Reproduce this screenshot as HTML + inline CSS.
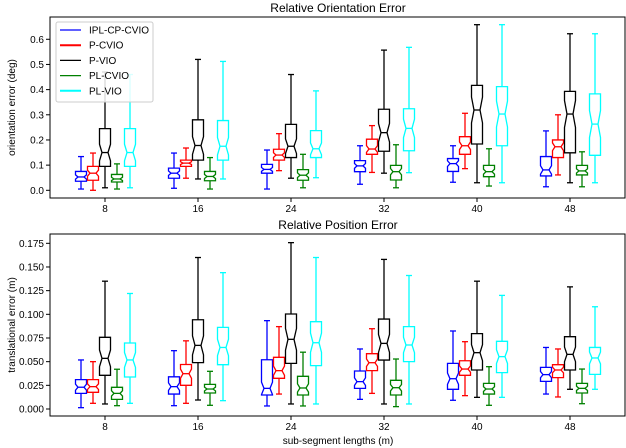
<!DOCTYPE html>
<html><head><meta charset="utf-8"><style>
html,body{margin:0;padding:0;background:#fff;}
svg{display:block;font-family:"Liberation Sans","DejaVu Sans",sans-serif;}
</style></head><body>
<svg id="chart" width="626" height="448" viewBox="0 0 626 448"></svg>
<script>
const categories = [8, 16, 24, 32, 40, 48];
const seriesNames = ["IPL-CP-CVIO", "P-CVIO", "P-VIO", "PL-CVIO", "PL-VIO"];
const seriesColors = ["#0000ff", "#ff0000", "#000000", "#008000", "#00ffff"];
// [low whisker, q1, median, q3, high whisker]
const oriIPL = [[0.005,0.036,0.053,0.075,0.134],[0.008,0.048,0.068,0.088,0.148],[0.005,0.068,0.083,0.103,0.16],[0.024,0.074,0.097,0.118,0.177],[0.032,0.075,0.106,0.126,0.177],[0.014,0.057,0.081,0.134,0.236]];
const oriPC = [[0.0,0.04,0.068,0.095,0.148],[0.048,0.095,0.108,0.12,0.168],[0.078,0.12,0.14,0.163,0.225],[0.071,0.143,0.164,0.203,0.257],[0.086,0.143,0.177,0.213,0.306],[0.061,0.13,0.173,0.2,0.3]];
const oriPV = [[0.01,0.095,0.15,0.245,0.47],[0.045,0.12,0.178,0.28,0.52],[0.048,0.13,0.175,0.262,0.46],[0.068,0.155,0.229,0.322,0.557],[0.03,0.184,0.319,0.417,0.658],[0.03,0.149,0.303,0.393,0.622]];
const oriPLC = [[0.005,0.033,0.045,0.063,0.105],[0.005,0.038,0.055,0.075,0.13],[0.01,0.04,0.06,0.082,0.143],[0.01,0.041,0.074,0.099,0.181],[0.017,0.054,0.074,0.099,0.165],[0.014,0.061,0.077,0.099,0.153]];
const oriPLV = [[0.01,0.095,0.15,0.245,0.46],[0.045,0.12,0.175,0.277,0.512],[0.05,0.13,0.165,0.237,0.395],[0.07,0.157,0.246,0.324,0.568],[0.03,0.177,0.303,0.412,0.658],[0.03,0.139,0.263,0.383,0.622]];
const posIPL = [[0.0014,0.0165,0.023,0.031,0.0518],[0.0035,0.0158,0.0236,0.034,0.0616],[0.0032,0.0148,0.0218,0.052,0.0933],[0.0102,0.0218,0.0289,0.0401,0.0634],[0.0092,0.0208,0.032,0.0482,0.0824],[0.0158,0.0292,0.0363,0.044,0.065]];
const posPC = [[0.006,0.0176,0.0236,0.031,0.05],[0.006,0.025,0.0373,0.047,0.072],[0.0158,0.0324,0.0405,0.0546,0.087],[0.0165,0.0405,0.0489,0.0584,0.0848],[0.0141,0.0356,0.0422,0.051,0.0711],[0.0127,0.0331,0.0412,0.0468,0.0634]];
const posPV = [[0.0053,0.0356,0.0535,0.0757,0.135],[0.0095,0.049,0.0672,0.0943,0.16],[0.0053,0.0482,0.0736,0.1003,0.1757],[0.0053,0.0517,0.0693,0.095,0.158],[0.0123,0.0412,0.0595,0.0796,0.135],[0.0208,0.0412,0.0577,0.0764,0.129]];
const posPLC = [[0.0035,0.0102,0.0165,0.0229,0.042],[0.0039,0.0169,0.0211,0.026,0.0398],[0.0032,0.0148,0.0222,0.0345,0.06],[0.0025,0.0148,0.0225,0.0303,0.0528],[0.0039,0.0158,0.0211,0.0271,0.0447],[0.0056,0.0169,0.0218,0.0271,0.0422]];
const posPLV = [[0.006,0.0338,0.0518,0.0697,0.122],[0.0088,0.0468,0.065,0.0862,0.144],[0.0053,0.0458,0.07,0.0922,0.16],[0.0053,0.05,0.0676,0.087,0.141],[0.0123,0.0384,0.0553,0.0715,0.12],[0.0208,0.0366,0.0539,0.065,0.108]];
const oriTicks = [0.0, 0.1, 0.2, 0.3, 0.4, 0.5, 0.6];
const oriTickLabels = ["0.0","0.1","0.2","0.3","0.4","0.5","0.6"];
const posTicks = [0, 0.025, 0.05, 0.075, 0.1, 0.125, 0.15, 0.175];
const posTickLabels = ["0.000","0.025","0.050","0.075","0.100","0.125","0.150","0.175"];

const NS = "http://www.w3.org/2000/svg";
const svg = document.getElementById("chart");
function mk(tag, attrs, parent) {
  const e = document.createElementNS(NS, tag);
  for (const k in attrs) e.setAttribute(k, attrs[k]);
  (parent || svg).appendChild(e);
  return e;
}
const xLeft = 50, xRight = 625;
function xScale(i) { return 105 + i * 93; }
const offsets = [-24, -12, 0, 12, 25];

function drawPanel(cfg) {
  const g = mk("g", {});
  
  
  const y = v => cfg.y0 - (v - cfg.v0) * cfg.k;
  const frame = mk("rect", {x: xLeft, y: cfg.top, width: xRight - xLeft, height: cfg.bottom - cfg.top, fill: "none", stroke: "#000", "stroke-width": 1}, g);
  
  
  const title = mk("text", {x: 338, y: cfg.top - 5, "text-anchor": "middle", "font-size": 12, fill: "#000"}, g);
  title.textContent = cfg.title;
  
  
  cfg.ticks.forEach((t, i) => {
    const yy = y(t);
    mk("line", {x1: xLeft - 4, x2: xLeft, y1: yy, y2: yy, stroke: "#000"}, g);
    const tl = mk("text", {x: xLeft - 6, y: yy + 3.5, "text-anchor": "end", "font-size": 10}, g);
    tl.textContent = cfg.tickLabels[i];
    
    
  });
  categories.forEach((c, i) => {
    const xx = xScale(i);
    mk("line", {x1: xx, x2: xx, y1: cfg.bottom, y2: cfg.bottom + 4, stroke: "#000"}, g);
    const tl = mk("text", {x: xx, y: cfg.bottom + 14, "text-anchor": "middle", "font-size": 10}, g);
    tl.textContent = c;
    
    
  });
  const yl = mk("text", {x: 0, y: 0, "text-anchor": "middle", "font-size": 10, transform: `translate(15,${(cfg.top + cfg.bottom) / 2}) rotate(-90)`}, g);
  yl.textContent = cfg.ylabel;
  
  
  cfg.series.forEach((data, s) => {
    data.forEach((d, i) => {
      const cx = xScale(i) + offsets[s];
      const hw = 5.5, nw = 3;
      const [lo, q1, med, q3, hi] = d.map(y);
      const nh = Math.min((q1 - q3) * 0.22, (q1 - med) * 0.95, (med - q3) * 0.95);
      const col = seriesColors[s];
      const bg = mk("g", {stroke: col, "stroke-width": 1.3, fill: "none"}, g);
      
      
      mk("line", {x1: cx, x2: cx, y1: q1, y2: lo}, bg);
      mk("line", {x1: cx, x2: cx, y1: q3, y2: hi}, bg);
      mk("line", {x1: cx - 3, x2: cx + 3, y1: lo, y2: lo}, bg);
      mk("line", {x1: cx - 3, x2: cx + 3, y1: hi, y2: hi}, bg);
      const p = `M${cx-hw},${q1} L${cx-hw},${med+nh} L${cx-nw},${med} L${cx-hw},${med-nh} L${cx-hw},${q3} L${cx+hw},${q3} L${cx+hw},${med-nh} L${cx+nw},${med} L${cx+hw},${med+nh} L${cx+hw},${q1} Z`;
      mk("path", {d: p}, bg);
      mk("line", {x1: cx - nw, x2: cx + nw, y1: med, y2: med}, bg);
    });
  });
}

drawPanel({name: "orientation-error-panel", title: "Relative Orientation Error", top: 17, bottom: 198, y0: 190.3, v0: 0, k: 251.7,
  ticks: oriTicks, tickLabels: oriTickLabels, ylabel: "orientation error (deg)", series: [oriIPL, oriPC, oriPV, oriPLC, oriPLV]});
drawPanel({name: "position-error-panel", title: "Relative Position Error", top: 234, bottom: 416, y0: 409, v0: 0, k: 23.67 / 0.025,
  ticks: posTicks, tickLabels: posTickLabels, ylabel: "translational error (m)", series: [posIPL, posPC, posPV, posPLC, posPLV]});

const xl = mk("text", {x: 338, y: 444, "text-anchor": "middle", "font-size": 10});
xl.textContent = "sub-segment lengths (m)";



const leg = mk("g", {});


mk("rect", {x: 56, y: 22, width: 97, height: 80, rx: 2, fill: "#fff", "fill-opacity": 0.85, stroke: "#ccc"}, leg);
seriesNames.forEach((n, i) => {
  const yy = 30 + i * 15.2;
  const e = mk("g", {}, leg);
  
  
  mk("line", {x1: 60, x2: 81, y1: yy, y2: yy, stroke: seriesColors[i], "stroke-width": (i === 1 || i === 4) ? 2 : 1.3}, e);
  const t = mk("text", {x: 89, y: yy + 3.5, "font-size": 10}, e);
  t.textContent = n;
});
</script>
</body></html>
